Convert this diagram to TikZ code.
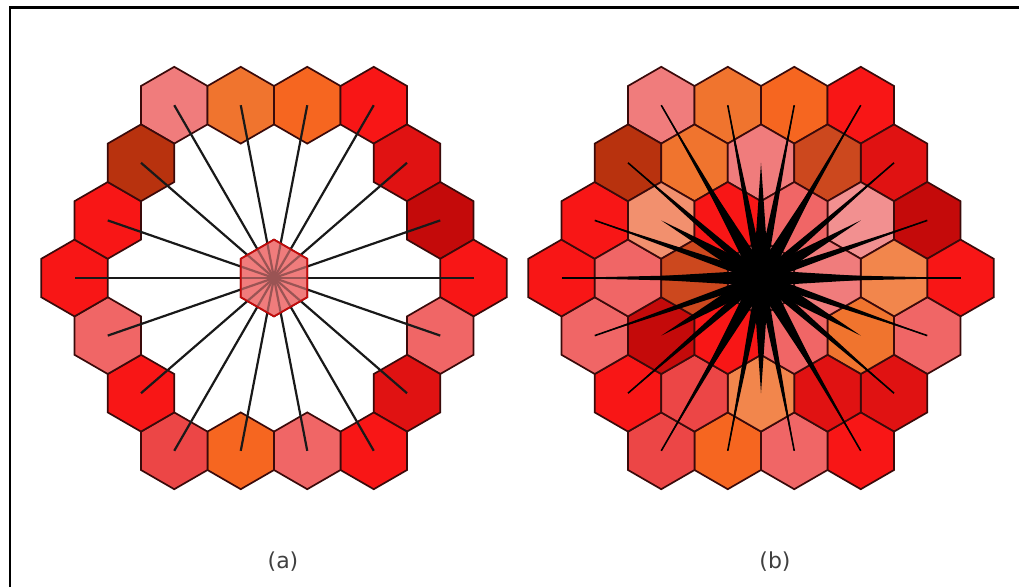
\documentclass[tikz,border=0pt]{standalone}
\usepackage{fontspec}
\setsansfont{DejaVu Sans}
\usepackage{tikz}
\usetikzlibrary{shapes.geometric,calc}

\definecolor{hexpink}{HTML}{F07C7C}
\definecolor{hexrose}{HTML}{F06666}
\definecolor{hexcoral}{HTML}{EC4646}
\definecolor{hexpeach}{HTML}{F2906E}
\definecolor{hexblush}{HTML}{F29090}
\definecolor{hexorange}{HTML}{F0742E}
\definecolor{hextangerine}{HTML}{F66620}
\definecolor{hexsalmon}{HTML}{F2864C}
\definecolor{hexred}{HTML}{F81616}
\definecolor{hexcrimson}{HTML}{E01212}
\definecolor{hexdark}{HTML}{C40A0A}
\definecolor{hexbrown}{HTML}{B8320E}
\definecolor{hexrust}{HTML}{CC481E}
\definecolor{hexedge}{HTML}{3A0A0A}

\tikzset{
  cell/.style={regular polygon, regular polygon sides=6, shape border rotate=30, minimum size=76.8pt, inner sep=0pt, outer sep=0pt, draw=hexedge, line width=1.7pt},
  spoke/.style={draw=black!90, line width=2.2pt},
  wedge/.style={fill=black},
  tipline/.style={draw=black, line width=1.6pt},
  frame/.style={draw=black, line width=2.4pt},
  caption/.style={font=\sffamily\fontsize{22}{26}\selectfont, text=black!75},
}

% outer ring: x offset in half cell widths / row / colour
\newcommand{\ringthree}{-3/-3/hexpink, -1/-3/hexorange, 1/-3/hextangerine, 3/-3/hexred,
  4/-2/hexcrimson, 5/-1/hexdark, 6/0/hexred, 5/1/hexrose, 4/2/hexcrimson,
  3/3/hexred, 1/3/hexrose, -1/3/hextangerine, -3/3/hexcoral,
  -4/2/hexred, -5/1/hexrose, -6/0/hexred, -5/-1/hexred, -4/-2/hexbrown}
\newcommand{\ringtwo}{-2/-2/hexorange, 0/-2/hexpink, 2/-2/hexrust, 3/-1/hexblush,
  4/0/hexsalmon, 3/1/hexorange, 2/2/hexcrimson, 0/2/hexsalmon, -2/2/hexcoral,
  -3/1/hexdark, -4/0/hexrose, -3/-1/hexpeach}
\newcommand{\ringone}{-1/-1/hexred, 1/-1/hexrose, 2/0/hexpink, 1/1/hexrose,
  -1/1/hexred, -2/0/hexrust}

\begin{document}
\begin{tikzpicture}[x=1pt, y=-1pt]
  \useasboundingbox (0,0) rectangle (1019,587);
  \draw[frame] (10,587) -- (10,7.5) -- (1019,7.5);

  % (a) outer ring only
  \node[cell, fill=hexpink] (a0) at (274,278) {};
  \foreach \x/\r/\c [count=\i] in \ringthree
    \node[cell, fill=\c] (a\i) at ($(a0)+(33.25*\x,57.6*\r)$) {};
  \foreach \i in {1,...,18}
    \draw[spoke] (a0.center) -- (a\i.center);
  \node[cell, fill=hexpink, fill opacity=0.6, draw=hexdark] (a0top) at (a0) {};
  \node[caption] (alabel) at (283,562) {(a)};

  % (b) full patch
  \node[cell, fill=hexpink] (b0) at (761,278) {};
  \foreach \x/\r/\c [count=\i] in \ringthree
    \node[cell, fill=\c] (b\i) at ($(b0)+(33.25*\x,57.6*\r)$) {};
  \foreach \x/\r/\c [count=\i] in \ringtwo
    \node[cell, fill=\c] (bm\i) at ($(b0)+(33.25*\x,57.6*\r)$) {};
  \foreach \x/\r/\c [count=\i] in \ringone
    \node[cell, fill=\c] (bi\i) at ($(b0)+(33.25*\x,57.6*\r)$) {};
  \foreach \i in {1,...,18} {
    \fill[wedge] ($(b0.center)!4.5pt!90:(b\i.center)$) -- (b\i.center) -- ($(b0.center)!4.5pt!-90:(b\i.center)$) -- cycle;
    \draw[tipline] (b0.center) -- (b\i.center);
  }
  \foreach \i in {1,...,12}
    \fill[wedge] ($(b0.center)!8pt!90:(bm\i.center)$) -- (bm\i.center) -- ($(b0.center)!8pt!-90:(bm\i.center)$) -- cycle;
  \foreach \i in {1,...,6}
    \fill[wedge] ($(b0.center)!9pt!90:(bi\i.center)$) -- (bi\i.center) -- ($(b0.center)!9pt!-90:(bi\i.center)$) -- cycle;
  \fill[wedge] (b0.center) circle (19pt);
  \node[caption] (blabel) at (775,562) {(b)};
\end{tikzpicture}
\end{document}
